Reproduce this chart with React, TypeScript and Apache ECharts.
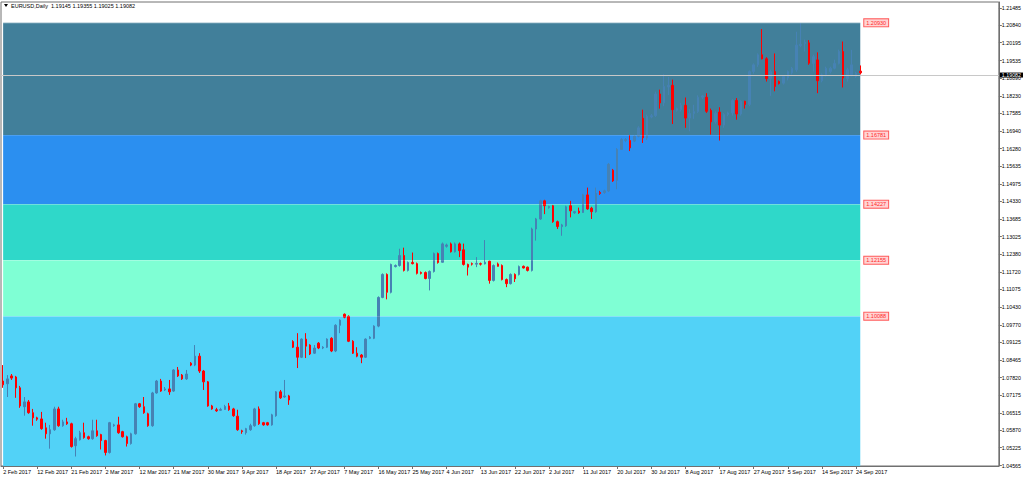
import React, { useEffect, useRef } from "react";
import * as echarts from "echarts";

// ---- data ----
const opens = [
  1.0769, 1.0759, 1.0788, 1.0784, 1.0744, 1.0674, 1.0692, 1.0652, 1.0633, 1.0629,
  1.0596, 1.0574, 1.0589, 1.0666, 1.0604, 1.0618, 1.0611, 1.053, 1.0552, 1.0578,
  1.0563, 1.0556, 1.0585, 1.0571, 1.0549, 1.0505, 1.0604, 1.0607, 1.0582, 1.0563,
  1.0538, 1.0574, 1.0685, 1.0674, 1.0648, 1.0604, 1.0725, 1.0769, 1.0736, 1.074,
  1.0732, 1.081, 1.0791, 1.0777, 1.0835, 1.0828, 1.0861, 1.0806, 1.0766, 1.0677,
  1.0663, 1.0661, 1.0664, 1.0677, 1.0666, 1.0639, 1.0585, 1.0578, 1.0589, 1.0604,
  1.0666, 1.0615, 1.0615, 1.0607, 1.0641, 1.0729, 1.071, 1.0714, 1.0915, 1.0894,
  1.0857, 1.0924, 1.0902, 1.0872, 1.0909, 1.0891, 1.0894, 1.0927, 1.088, 1.0975,
  1.1016, 1.1008, 1.0916, 1.0872, 1.0865, 1.0857, 1.0927, 1.0927, 1.0972, 1.1078,
  1.1163, 1.1097, 1.1192, 1.1196, 1.1233, 1.1178, 1.1207, 1.1203, 1.117, 1.117,
  1.1148, 1.1174, 1.124, 1.1208, 1.1267, 1.1276, 1.1247, 1.1276, 1.1254, 1.12,
  1.1203, 1.1201, 1.1203, 1.1202, 1.1212, 1.1141, 1.1202, 1.1196, 1.1144, 1.1129,
  1.1163, 1.1163, 1.1193, 1.119, 1.1178, 1.1331, 1.1368, 1.1435, 1.141, 1.1417,
  1.1358, 1.134, 1.1343, 1.1417, 1.1391, 1.1397, 1.1392, 1.1457, 1.1408, 1.1395,
  1.1466, 1.1466, 1.1472, 1.1548, 1.1511, 1.1625, 1.1658, 1.1658, 1.1656, 1.1674,
  1.174, 1.1668, 1.1745, 1.175, 1.183, 1.1797, 1.1856, 1.1862, 1.177, 1.1772,
  1.1788, 1.1741, 1.1758, 1.1765, 1.1818, 1.1818, 1.1769, 1.1727, 1.1763, 1.1715,
  1.1754, 1.176, 1.1806, 1.1756, 1.1803, 1.1791, 1.1913, 1.1938, 1.1975, 1.196,
  1.1887, 1.1913, 1.1876, 1.187, 1.1889, 1.1908, 1.1919, 1.2009, 1.2016, 1.2019,
  1.1943, 1.1956, 1.1879, 1.1901, 1.1913, 1.1925, 1.1943, 1.1987, 1.1887, 1.1901,
  1.1895, 1.19145,
];
const highs = [
  1.0828, 1.0791, 1.0795, 1.0788, 1.0751, 1.071, 1.0699, 1.0666, 1.0637, 1.0655,
  1.0615, 1.0607, 1.0674, 1.0674, 1.0626, 1.0633, 1.0615, 1.0563, 1.0585, 1.0615,
  1.0567, 1.0626, 1.0626, 1.0574, 1.0552, 1.0618, 1.0611, 1.0637, 1.0585, 1.0567,
  1.0578, 1.0688, 1.0688, 1.071, 1.0652, 1.0729, 1.0773, 1.0777, 1.0747, 1.0773,
  1.0813, 1.0821, 1.0795, 1.081, 1.0839, 1.0902, 1.0872, 1.081, 1.0769, 1.0681,
  1.067, 1.067, 1.0681, 1.0688, 1.067, 1.0663, 1.0589, 1.0596, 1.0611, 1.067,
  1.0675, 1.0618, 1.0618, 1.0648, 1.0732, 1.0736, 1.0773, 1.0718, 1.092, 1.0946,
  1.0927, 1.0946, 1.0905, 1.0902, 1.0913, 1.0898, 1.0927, 1.0931, 1.0979, 1.0997,
  1.1019, 1.1012, 1.092, 1.0894, 1.0869, 1.0927, 1.0935, 1.0975, 1.1082, 1.1167,
  1.1167, 1.1203, 1.12, 1.1258, 1.1262, 1.1211, 1.1244, 1.1207, 1.1174, 1.1174,
  1.1178, 1.1244, 1.1244, 1.1281, 1.1277, 1.1281, 1.1281, 1.1281, 1.1277, 1.1203,
  1.1207, 1.1227, 1.1207, 1.129, 1.1214, 1.12, 1.1207, 1.12, 1.1148, 1.1167,
  1.1167, 1.1196, 1.1196, 1.1192, 1.1336, 1.1372, 1.1439, 1.1439, 1.1417, 1.142,
  1.1362, 1.135, 1.1417, 1.1435, 1.1398, 1.141, 1.1461, 1.1484, 1.1413, 1.1484,
  1.1472, 1.1476, 1.1575, 1.1553, 1.163, 1.1667, 1.1667, 1.1678, 1.1678, 1.1711,
  1.1772, 1.1754, 1.1756, 1.1839, 1.1846, 1.1903, 1.1893, 1.1883, 1.178, 1.1797,
  1.1817, 1.1774, 1.179, 1.1825, 1.1826, 1.1833, 1.1776, 1.1766, 1.1781, 1.1759,
  1.1765, 1.1811, 1.1815, 1.1807, 1.1805, 1.1917, 1.1943, 1.198, 1.207, 1.1966,
  1.192, 1.198, 1.188, 1.1899, 1.1917, 1.193, 1.206, 1.2092, 1.2031, 1.2029,
  1.1975, 1.1984, 1.1906, 1.1931, 1.1931, 1.1957, 1.1994, 1.2024, 1.1927, 1.1993,
  1.1912, 1.19355,
];
const lows = [
  1.0744, 1.071, 1.0773, 1.0707, 1.067, 1.0641, 1.0648, 1.0604, 1.0622, 1.0589,
  1.0556, 1.0519, 1.0585, 1.06, 1.06, 1.0607, 1.0523, 1.049, 1.0549, 1.0556,
  1.0552, 1.0552, 1.0563, 1.0516, 1.0494, 1.0501, 1.06, 1.0574, 1.056, 1.0527,
  1.0534, 1.0571, 1.067, 1.0648, 1.06, 1.06, 1.0722, 1.0729, 1.0732, 1.0718,
  1.0729, 1.0784, 1.0773, 1.0773, 1.0824, 1.0824, 1.0799, 1.0736, 1.0674, 1.0663,
  1.0655, 1.0659, 1.0663, 1.0659, 1.0637, 1.0585, 1.0574, 1.0571, 1.0585, 1.06,
  1.0607, 1.0604, 1.0604, 1.0604, 1.0637, 1.0703, 1.0707, 1.0681, 1.0891, 1.0817,
  1.0854, 1.0854, 1.0865, 1.0869, 1.0887, 1.0887, 1.0891, 1.0876, 1.0876, 1.0946,
  1.1001, 1.0913, 1.0869, 1.0857, 1.0835, 1.0854, 1.0924, 1.0924, 1.0968, 1.1075,
  1.1071, 1.1093, 1.1189, 1.1192, 1.1174, 1.1174, 1.12, 1.1163, 1.1163, 1.1145,
  1.1104, 1.117, 1.1203, 1.1207, 1.1262, 1.1244, 1.1244, 1.1227, 1.1196, 1.1159,
  1.1196, 1.119, 1.1196, 1.12, 1.1129, 1.1137, 1.1192, 1.1141, 1.1116, 1.1126,
  1.1135, 1.1159, 1.1185, 1.1174, 1.1174, 1.1288, 1.1365, 1.1386, 1.1406, 1.1354,
  1.1331, 1.1306, 1.1339, 1.1374, 1.1387, 1.1387, 1.1391, 1.1402, 1.1368, 1.1391,
  1.1457, 1.1461, 1.1468, 1.1505, 1.1478, 1.1623, 1.1652, 1.1619, 1.1652, 1.167,
  1.1649, 1.166, 1.174, 1.1745, 1.1776, 1.1785, 1.1826, 1.1719, 1.1765, 1.1765,
  1.1705, 1.1692, 1.1738, 1.176, 1.1811, 1.176, 1.168, 1.172, 1.1658, 1.1705,
  1.1748, 1.175, 1.1735, 1.175, 1.1776, 1.1785, 1.1905, 1.193, 1.1958, 1.1876,
  1.1823, 1.184, 1.1865, 1.1865, 1.188, 1.1902, 1.1912, 1.2003, 1.1987, 1.1938,
  1.1913, 1.1833, 1.1873, 1.1895, 1.1906, 1.1921, 1.1939, 1.1854, 1.1876, 1.1895,
  1.189, 1.19025,
];
const closes = [
  1.0755, 1.0777, 1.078, 1.0744, 1.0677, 1.0692, 1.0652, 1.0633, 1.0628, 1.0593,
  1.0574, 1.0589, 1.0666, 1.0604, 1.0618, 1.0611, 1.0527, 1.0556, 1.0578, 1.056,
  1.0556, 1.0585, 1.0567, 1.0549, 1.0505, 1.0615, 1.0607, 1.0578, 1.0563, 1.0538,
  1.0574, 1.0685, 1.0674, 1.0652, 1.0604, 1.0725, 1.0769, 1.0732, 1.074, 1.0729,
  1.081, 1.0788, 1.0777, 1.0795, 1.0828, 1.0861, 1.0806, 1.0766, 1.0677, 1.0666,
  1.0659, 1.0664, 1.0675, 1.0663, 1.0641, 1.0589, 1.0582, 1.0593, 1.0604, 1.0666,
  1.0611, 1.0607, 1.0607, 1.0644, 1.0729, 1.0707, 1.0714, 1.0699, 1.0894, 1.0857,
  1.0924, 1.0898, 1.0869, 1.0891, 1.0891, 1.0894, 1.0924, 1.088, 1.0975, 1.0994,
  1.1005, 1.0916, 1.0872, 1.0861, 1.0857, 1.0924, 1.0931, 1.0972, 1.1078, 1.1163,
  1.1097, 1.12, 1.1196, 1.1233, 1.1178, 1.1207, 1.1203, 1.1167, 1.1167, 1.1148,
  1.1174, 1.124, 1.1207, 1.1276, 1.1272, 1.1247, 1.1276, 1.1251, 1.12, 1.119,
  1.1201, 1.1204, 1.1201, 1.1208, 1.1141, 1.1196, 1.1193, 1.1144, 1.1129, 1.1163,
  1.1147, 1.1192, 1.1187, 1.1178, 1.1331, 1.1368, 1.1435, 1.1417, 1.1414, 1.1358,
  1.134, 1.1346, 1.1413, 1.1398, 1.1395, 1.1391, 1.1457, 1.1405, 1.1395, 1.1462,
  1.1462, 1.1472, 1.157, 1.1509, 1.1625, 1.1662, 1.1662, 1.1631, 1.1674, 1.1705,
  1.1668, 1.1747, 1.175, 1.183, 1.1797, 1.1858, 1.1862, 1.1772, 1.1776, 1.1788,
  1.1741, 1.1758, 1.1765, 1.1818, 1.1823, 1.1766, 1.1727, 1.1759, 1.1715, 1.1754,
  1.176, 1.1806, 1.1756, 1.1803, 1.1791, 1.1913, 1.1938, 1.1975, 1.196, 1.1887,
  1.1913, 1.1858, 1.1869, 1.1895, 1.1913, 1.1925, 1.2011, 1.2014, 1.2021, 1.1944,
  1.1968, 1.1879, 1.1901, 1.1925, 1.1925, 1.1943, 1.1987, 1.1889, 1.192, 1.1938,
  1.1907, 1.19082,
];

const fibLevels = [1.2093, 1.16781, 1.14227, 1.12155, 1.10088];
const bandColors = ["#417f9a", "#2b8ff0", "#2fd8c9", "#7fffd4", "#52d2f7"];
const yTicks = [
  1.21485, 1.2084, 1.20195, 1.19535, 1.1889, 1.1823, 1.17585, 1.1694, 1.1628,
  1.15635, 1.14975, 1.1433, 1.13685, 1.13025, 1.1238, 1.1172, 1.11075, 1.1043,
  1.0977, 1.09125, 1.08465, 1.0782, 1.07175, 1.06515, 1.0587, 1.05225, 1.04565,
];
const currentPrice = 1.19082;
const symbolTitle = "EURUSD,Daily  1.19145 1.19355 1.19025 1.19082";
const startDate = Date.UTC(2017, 1, 2);
const monthNames = ["Jan", "Feb", "Mar", "Apr", "May", "Jun", "Jul", "Aug", "Sep", "Oct", "Nov", "Dec"];
const Y_MIN = 1.0455;
const Y_MAX = 1.217;
const TOTAL_SLOTS = 234;
const LABEL_EVERY = 8;
const LAST_LABEL = 200;

function buildDates(n: number): string[] {
  const out: string[] = [];
  let t = startDate;
  while (out.length < n) {
    const d = new Date(t);
    if (d.getUTCDay() !== 6) {
      out.push(`${d.getUTCDate()} ${monthNames[d.getUTCMonth()]} ${d.getUTCFullYear()}`);
    }
    t += 86400000;
  }
  return out;
}

const FONT = "Liberation Sans";

export default function App() {
  const ref = useRef<HTMLDivElement>(null);
  useEffect(() => {
    if (!ref.current) return;
    const chart = echarts.init(ref.current, undefined, { renderer: "svg" });
    const dates = buildDates(TOTAL_SLOTS);
    const lastIdx = closes.length - 1;
    const candleData = opens.map((o, i) => [o, closes[i], lows[i], highs[i]]);
    const showTick = (i: number) => i % LABEL_EVERY === 0 && i <= LAST_LABEL;

    const bandBottoms = [...fibLevels.slice(1), Y_MIN];
    const areas = fibLevels.map((top, k) => [
      { xAxis: dates[0], yAxis: top, itemStyle: { color: bandColors[k], opacity: 1 } },
      { xAxis: dates[lastIdx], yAxis: bandBottoms[k] },
    ]);
    const fibLines = fibLevels.map((v) => [
      { coord: [dates[0], v], name: v.toFixed(5) },
      { coord: [dates[lastIdx], v] },
    ]);

    chart.setOption({
      animation: false,
      backgroundColor: "#ffffff",
      textStyle: { fontFamily: FONT },
      graphic: [
        { type: "polygon", shape: { points: [[4, 4], [8, 4], [6, 7]] }, style: { fill: "#000" } },
        {
          type: "text",
          x: 11,
          y: 6,
          style: { text: symbolTitle, fill: "#000", fontSize: 5.5, fontFamily: FONT, verticalAlign: "middle" },
        },
      ],
      grid: {
        left: 1,
        right: 24,
        top: 2,
        bottom: 13,
        show: true,
        borderColor: "#707070",
        borderWidth: 1,
        backgroundColor: "#ffffff",
      },
      xAxis: {
        type: "category",
        data: dates,
        boundaryGap: true,
        axisLine: { show: true, lineStyle: { color: "#707070", width: 1 } },
        axisTick: { show: true, alignWithLabel: true, length: 3, interval: (i: number) => showTick(i), lineStyle: { color: "#707070" } },
        axisLabel: {
          interval: (i: number) => showTick(i),
          align: "left",
          margin: 3,
          fontSize: 5.5,
          color: "#000",
          fontFamily: FONT,
          hideOverlap: false,
        },
        splitLine: { show: false },
      },
      yAxis: {
        type: "value",
        position: "right",
        min: Y_MIN,
        max: Y_MAX,
        scale: true,
        axisLine: { show: true, lineStyle: { color: "#707070", width: 1 } },
        axisTick: { show: true, length: 3, customValues: yTicks, lineStyle: { color: "#707070" } },
        axisLabel: {
          customValues: yTicks,
          formatter: (v: number) => v.toFixed(5),
          margin: 3,
          fontSize: 5.3,
          lineHeight: 5.5,
          color: "#000",
          fontFamily: FONT,
        },
        splitLine: { show: false },
      },
      series: [
        {
          type: "line",
          z: 1,
          silent: true,
          data: dates.map(() => null),
          showSymbol: false,
          markArea: { silent: true, data: areas },
          markLine: {
            silent: true,
            symbol: ["none", "none"],
            lineStyle: { color: "rgba(255,255,255,0.15)", width: 1, type: "solid" },
            label: {
              show: true,
              position: "end",
              formatter: (p: any) => p.name,
              color: "#ff2a2a",
              fontSize: 5.5,
              fontFamily: FONT,
              backgroundColor: "#ffd4d4",
              borderColor: "#ff5a5a",
              borderWidth: 1,
              padding: [1, 2, 0, 2],
              distance: 4,
            },
            data: fibLines,
          },
        },
        {
          type: "candlestick",
          z: 3,
          data: candleData,
          barWidth: 2,
          itemStyle: {
            color: "#4682b4",
            color0: "#ff0000",
            borderColor: "#4682b4",
            borderColor0: "#ff0000",
            borderWidth: 1,
          },
          markLine: {
            silent: true,
            symbol: ["none", "none"],
            lineStyle: { color: "#c8c8c8", width: 1, type: "solid" },
            label: {
              show: true,
              position: "end",
              formatter: currentPrice.toFixed(5),
              color: "#fff",
              backgroundColor: "#000",
              fontSize: 5.3,
              lineHeight: 5,
              fontFamily: FONT,
              padding: [0, 2, 0, 2],
              distance: 1,
            },
            data: [{ yAxis: currentPrice }],
          },
        },
      ],
    });
    return () => chart.dispose();
  }, []);
  return (
    <div
      ref={ref}
      style={{ position: "fixed", left: 0, top: 0, width: 1024, height: 479, background: "#fff" }}
    />
  );
}
